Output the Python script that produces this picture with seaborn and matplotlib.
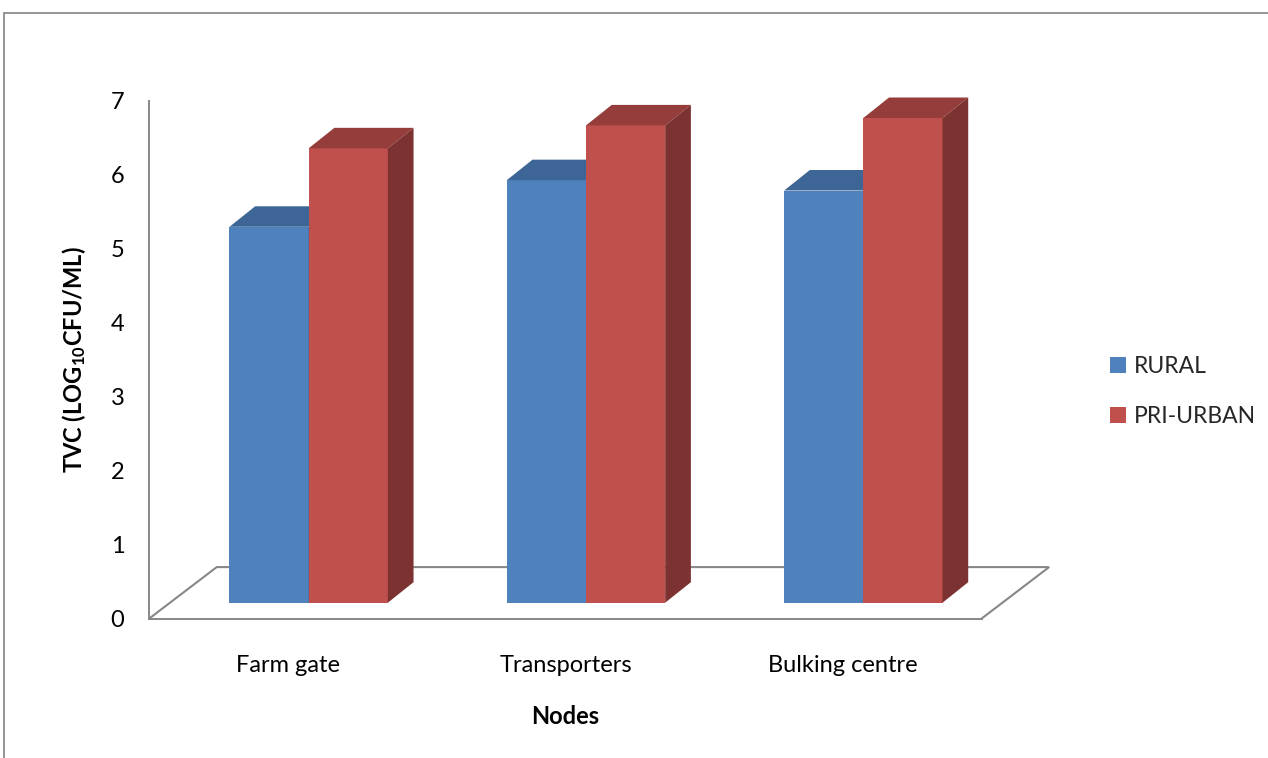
import matplotlib
matplotlib.use("Agg")
import matplotlib.pyplot as plt
from matplotlib.patches import Polygon, Rectangle, Patch
from matplotlib.lines import Line2D
import pandas as pd
import seaborn as sns

# ---- data -------------------------------------------------------------
nodes = ["Farm gate", "Transporters", "Bulking centre"]
areas = ["RURAL", "PRI-URBAN"]
rural_tvc = [5.08, 5.71, 5.57]
peri_urban_tvc = [6.14, 6.45, 6.55]
y_ticks = [0, 1, 2, 3, 4, 5, 6, 7]

df = pd.DataFrame({
    "node": nodes * 2,
    "area": [areas[0]] * len(nodes) + [areas[1]] * len(nodes),
    "tvc": rural_tvc + peri_urban_tvc,
})

# ---- style ------------------------------------------------------------
sns.set_theme(style="white")
plt.rcParams["font.family"] = ["Lato", "DejaVu Sans"]
plt.rcParams["mathtext.fontset"] = "custom"
plt.rcParams["mathtext.rm"] = "Lato:bold"
plt.rcParams["mathtext.default"] = "rm"

FRONT = {"RURAL": "#4F81BD", "PRI-URBAN": "#C0504D"}
TOP = {"RURAL": "#3D6596", "PRI-URBAN": "#953D3A"}
SIDE = {"RURAL": "#345680", "PRI-URBAN": "#7B3230"}
GREY = "#878787"
FS = 17
FS_TICK = 17
FS_LEG = 16.5

W, H, DPI = 1268, 758, 100
fig = plt.figure(figsize=(W / DPI, H / DPI), dpi=DPI)


def rect(left, bottom, width, height):
    """Axes rectangle given in pixels measured from the top-left corner."""
    return [left / W, 1 - bottom / H, width / W, height / H]


# front plane: value axis and the front edge of the floor
fw, fh = 832.4, 518.0
fax = fig.add_axes(rect(149.3, 618.5, fw, fh))
# plane in which the column faces stand (a little deeper than the front edge)
bw, bh = 832.0, 518.0
ax = fig.add_axes(rect(170.0, 602.7, bw, bh))

# ---- front axes -------------------------------------------------------
fax.set_xlim(-0.5, len(nodes) - 0.5)
fax.set_ylim(0, 7)
fax.patch.set_visible(False)
for s in ("top", "right"):
    fax.spines[s].set_visible(False)
for s in ("left", "bottom"):
    fax.spines[s].set_color(GREY)
    fax.spines[s].set_linewidth(1.4)
fax.set_yticks(y_ticks)
fax.set_yticklabels([str(t) for t in y_ticks])
fax.set_xticks(range(len(nodes)))
fax.set_xticklabels(nodes)
fax.tick_params(axis="y", direction="out", length=6, width=1.2, color=GREY,
                labelsize=FS_TICK, pad=12, labelcolor="black")
fax.tick_params(axis="x", length=0, labelsize=FS, pad=26, labelcolor="black")
fax.set_ylabel(r"TVC (LOG$_{10}$CFU/ML)", fontsize=FS, fontweight="bold",
               labelpad=16, color="black")
fax.set_xlabel("Nodes", fontsize=FS, fontweight="bold", labelpad=21,
               color="black")

# floor outline (oblique depth)
fdx = 67.4 * (len(nodes) / fw)
fdy = 51.4 * (7 / fh)
x0, x1 = -0.5, len(nodes) - 0.5
floor = Line2D([x0, x0 + fdx, x1 + fdx, x1], [0, fdy, fdy, 0],
               color=GREY, lw=1.5, clip_on=False, solid_joinstyle="miter")
fax.add_line(floor)

# ---- columns ----------------------------------------------------------
sns.barplot(data=df, x="node", y="tvc", hue="area", order=nodes,
            hue_order=areas, palette=FRONT, saturation=1, width=0.571,
            linewidth=0, legend=False, ax=ax)
ax.set_xlim(-0.5, len(nodes) - 0.5)
ax.set_ylim(0, 7)
ax.set_axis_off()
ax.patch.set_visible(False)

bdx = 25.7 * (len(nodes) / bw)
bdy = 20.5 * (7 / bh)
for level, (area, container) in enumerate(zip(areas, ax.containers)):
    z = 2 + level
    for bar in container.patches:
        bar.set_zorder(z)
        x = bar.get_x()
        w = bar.get_width()
        h = bar.get_height()
        top = Polygon([(x, h), (x + w, h), (x + w + bdx, h + bdy), (x + bdx, h + bdy)],
                      closed=True, facecolor=TOP[area], edgecolor="none",
                      zorder=z, clip_on=False)
        side = Polygon([(x + w, 0), (x + w + bdx, bdy), (x + w + bdx, h + bdy), (x + w, h)],
                       closed=True, facecolor=SIDE[area], edgecolor="none",
                       zorder=z, clip_on=False)
        ax.add_patch(top)
        ax.add_patch(side)

# ---- legend -----------------------------------------------------------
handles = [Patch(facecolor=FRONT[a], edgecolor="none") for a in areas]
fig.legend(handles, areas, loc="upper left",
           bbox_to_anchor=(1110 / W, 1 - 356 / H), frameon=False,
           fontsize=FS_LEG, handlelength=0.7, handleheight=0.7,
           handletextpad=0.35, labelspacing=1.28, borderpad=0,
           borderaxespad=0)

# chart area border
fig.add_artist(Rectangle((4 / W, -0.1), 1.2, 1.1 - 13 / H,
                         transform=fig.transFigure, fill=False,
                         edgecolor="#8C8C8C", lw=1.3))

fig.savefig("out.png", dpi=DPI, facecolor="white")
